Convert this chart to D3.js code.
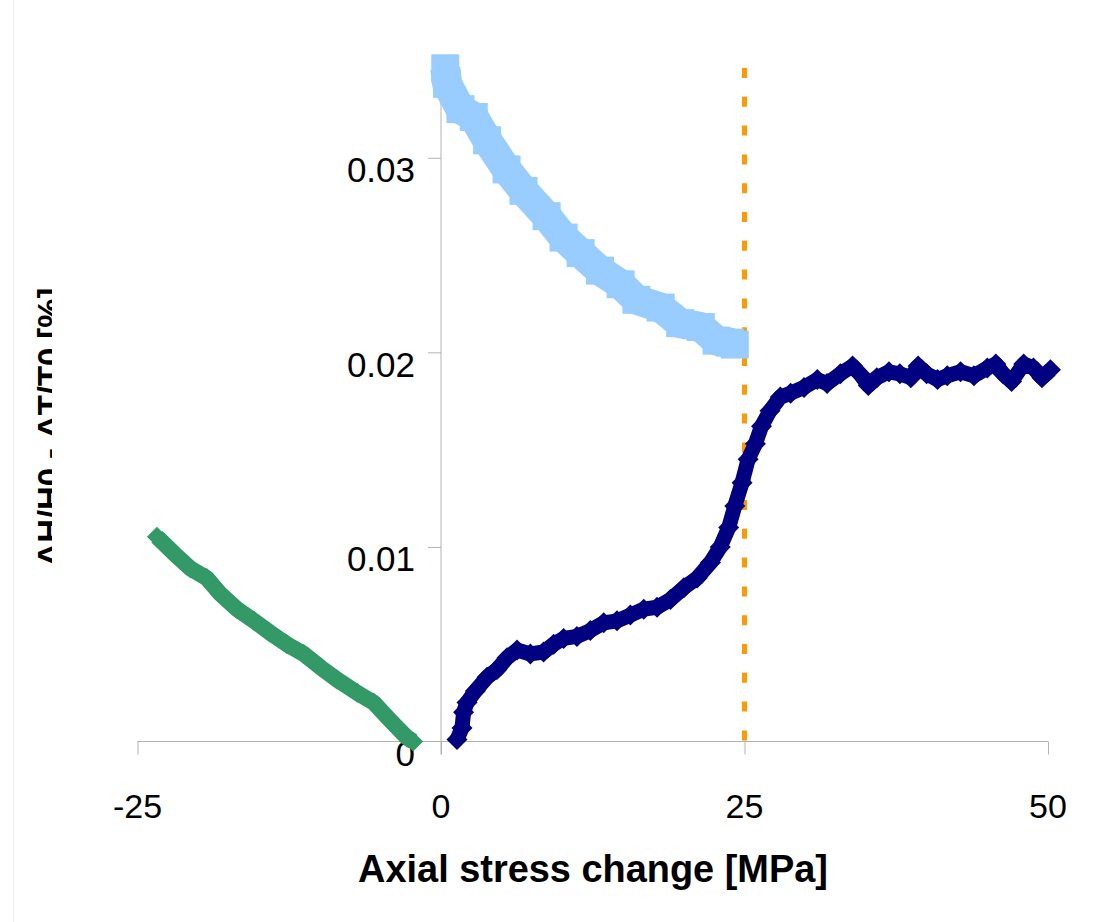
<!DOCTYPE html>
<html>
<head>
<meta charset="utf-8">
<script src="https://cdn.jsdelivr.net/npm/d3@7"></script>
<style>
  html, body { margin: 0; padding: 0; background: #ffffff; }
  svg { display: block; }
</style>
</head>
<body>
<div id="chart"></div>
<script>
// Axial stress change [MPa] vs relative change
const xTicks = [-25, 0, 25, 50];
const yTicks = [0, 0.01, 0.02, 0.03];
const yTickLabels = ["0", "0.01", "0.02", "0.03"];
const xTitle = "Axial stress change [MPa]";
const yTitle = "ΔH/H0 - ΔT/T0 [%]";
const markerStress = 25;

// loading branch (dark blue)
const loadX = [1.32, 1.73, 1.86, 2.14, 2.83, 3.79, 4.61, 5.44, 6.26, 7.36, 8.45, 9.28, 10.1, 11.2, 12.3, 13.4, 14.5, 15.6, 16.7, 17.8, 18.9, 20.0, 21.1, 22.2, 23.0, 23.7, 24.2, 24.8, 25.3, 25.9, 26.4, 27.1, 27.95, 28.8, 29.9, 31.0, 31.8, 32.9, 33.9, 34.5, 35.2, 35.9, 36.9, 37.8, 38.7, 39.3, 40.0, 40.9, 41.7, 42.8, 43.9, 45.0, 45.7, 46.3, 47.0, 48.0, 48.8, 49.5, 50.2];
const loadY = [0.0001, 0.0007, 0.0015, 0.0020, 0.0026, 0.0033, 0.0037, 0.0043, 0.0047, 0.0045, 0.0046, 0.0050, 0.0053, 0.0054, 0.0057, 0.0061, 0.0062, 0.0065, 0.0068, 0.0069, 0.0073, 0.0079, 0.0084, 0.0092, 0.0100, 0.0110, 0.0121, 0.0133, 0.0145, 0.0153, 0.0162, 0.0170, 0.0177, 0.0179, 0.0182, 0.0186, 0.0184, 0.0189, 0.0193, 0.0189, 0.0183, 0.0187, 0.0190, 0.0189, 0.0187, 0.0193, 0.0189, 0.0186, 0.0188, 0.0190, 0.0188, 0.0192, 0.0194, 0.0189, 0.0185, 0.0194, 0.0192, 0.0187, 0.0191];

// unloading branch (light blue)
const unloadX = [0.35, 0.5, 1.6, 2.7, 3.8, 5.4, 6.8, 8.7, 10.1, 11.5, 13.1, 14.8, 16.1, 18.1, 19.7, 21.4, 22.7, 23.8, 24.2];
const unloadY = [0.0346, 0.0338, 0.0325, 0.0321, 0.0309, 0.0294, 0.0283, 0.0270, 0.0259, 0.0251, 0.0242, 0.0235, 0.0227, 0.0223, 0.0215, 0.0213, 0.0206, 0.0205, 0.0204];

// extension branch (green)
const extX = [-23.4, -22.0, -20.65, -19.3, -18.2, -16.8, -15.4, -14.1, -12.7, -11.3, -9.9, -8.6, -6.9, -5.55, -4.2, -2.8, -2.3];
const extY = [0.01052, 0.00967, 0.0089, 0.0084, 0.0076, 0.0068, 0.0062, 0.0056, 0.0050, 0.0045, 0.0038, 0.0032, 0.0025, 0.0020, 0.0011, 0.0002, 0.0];

const W = 1101, H = 922;
const svg = d3.select("#chart").append("svg")
  .attr("width", W).attr("height", H)
  .style("font-family", "'Liberation Sans', Arial, sans-serif");

const x = d3.scaleLinear().domain([-25, 50]).range([137.5, 1048]);
const y = d3.scaleLinear().domain([0, 0.035]).range([741.5, 60.5]);

// faint frame edge
svg.append("line").attr("x1", 13.5).attr("x2", 13.5).attr("y1", 0).attr("y2", H)
  .attr("stroke", "#eeeeee").attr("stroke-width", 1);

const axisColor = "#b3b3b3";

// x axis (through y = 0)
const xAxis = svg.append("g").attr("transform", `translate(0,${y(0)})`)
  .call(d3.axisBottom(x).tickValues(xTicks).tickSize(13).tickFormat(""));
xAxis.select(".domain").attr("stroke", axisColor).attr("d", `M${x(-25)},0H${x(50)}`);
xAxis.selectAll(".tick line").attr("stroke", axisColor);

// y axis (through x = 0)
const yAxis = svg.append("g").attr("transform", `translate(${x(0)},0)`)
  .call(d3.axisLeft(y).tickValues(yTicks.slice(1)).tickSize(13).tickFormat(""));
yAxis.select(".domain").attr("stroke", axisColor).attr("d", `M0,${y(0.035)}V${y(0) + 13}`);
yAxis.selectAll(".tick line").attr("stroke", axisColor);

// y tick labels, hung below each tick
svg.append("g").selectAll("text").data(yTicks).join("text")
  .attr("x", 415)
  .attr("y", d => y(d) + 24.5)
  .attr("text-anchor", "end")
  .attr("font-size", 35)
  .attr("fill", "#000")
  .text((d, i) => yTickLabels[i]);

// x tick labels
svg.append("g").selectAll("text").data(xTicks).join("text")
  .attr("x", d => x(d))
  .attr("y", 818)
  .attr("text-anchor", "middle")
  .attr("font-size", 34)
  .attr("fill", "#000")
  .text(d => String(d));

// x title
const xt = svg.append("text")
  .attr("x", 593).attr("y", 882)
  .attr("text-anchor", "middle")
  .attr("font-weight", "bold")
  .attr("font-size", 32)
  .attr("fill", "#000")
  .text(xTitle);
const xtLen = xt.node().getComputedTextLength();
xt.attr("font-size", 32 * 470 / xtLen);

// y title, clipped on its right side
svg.append("clipPath").attr("id", "ytclip")
  .append("rect").attr("x", 0).attr("y", 0).attr("width", 52).attr("height", H);
const yt = svg.append("g").attr("clip-path", "url(#ytclip)")
  .append("text")
  .attr("transform", "translate(61,427) rotate(-90)")
  .attr("text-anchor", "middle")
  .attr("font-weight", "bold")
  .attr("font-size", 30)
  .attr("fill", "#000")
  .text(yTitle);
const ytLen = yt.node().getComputedTextLength();
yt.attr("font-size", 30 * 279 / ytLen);

// dashed marker line at 25 MPa
svg.append("line")
  .attr("x1", x(markerStress)).attr("x2", x(markerStress))
  .attr("y1", 68).attr("y2", y(0))
  .attr("stroke", "#ff9900").attr("stroke-width", 5)
  .attr("stroke-dasharray", "10 18.8");

const line = d3.line().x(d => x(d[0])).y(d => y(d[1]));
const diamond = h => `M0,${-h}L${h},0L0,${h}L${-h},0Z`;

function series(xs, ys, color, width, markerPath) {
  const pts = xs.map((v, i) => [v, ys[i]]);
  const g = svg.append("g");
  g.append("path").datum(pts)
    .attr("d", line)
    .attr("fill", "none")
    .attr("stroke", color)
    .attr("stroke-width", width)
    .attr("stroke-linejoin", "round");
  g.selectAll("path.m").data(pts).join("path")
    .attr("class", "m")
    .attr("transform", d => `translate(${x(d[0])},${y(d[1])})`)
    .attr("d", markerPath)
    .attr("fill", color);
}

series(unloadX, unloadY, "#99ccff", 30, "M-14,-14H14V14H-14Z");
series(extX, extY, "#339966", 16, diamond(10));
series(loadX, loadY, "#000080", 15, diamond(10.5));
</script>
</body>
</html>
